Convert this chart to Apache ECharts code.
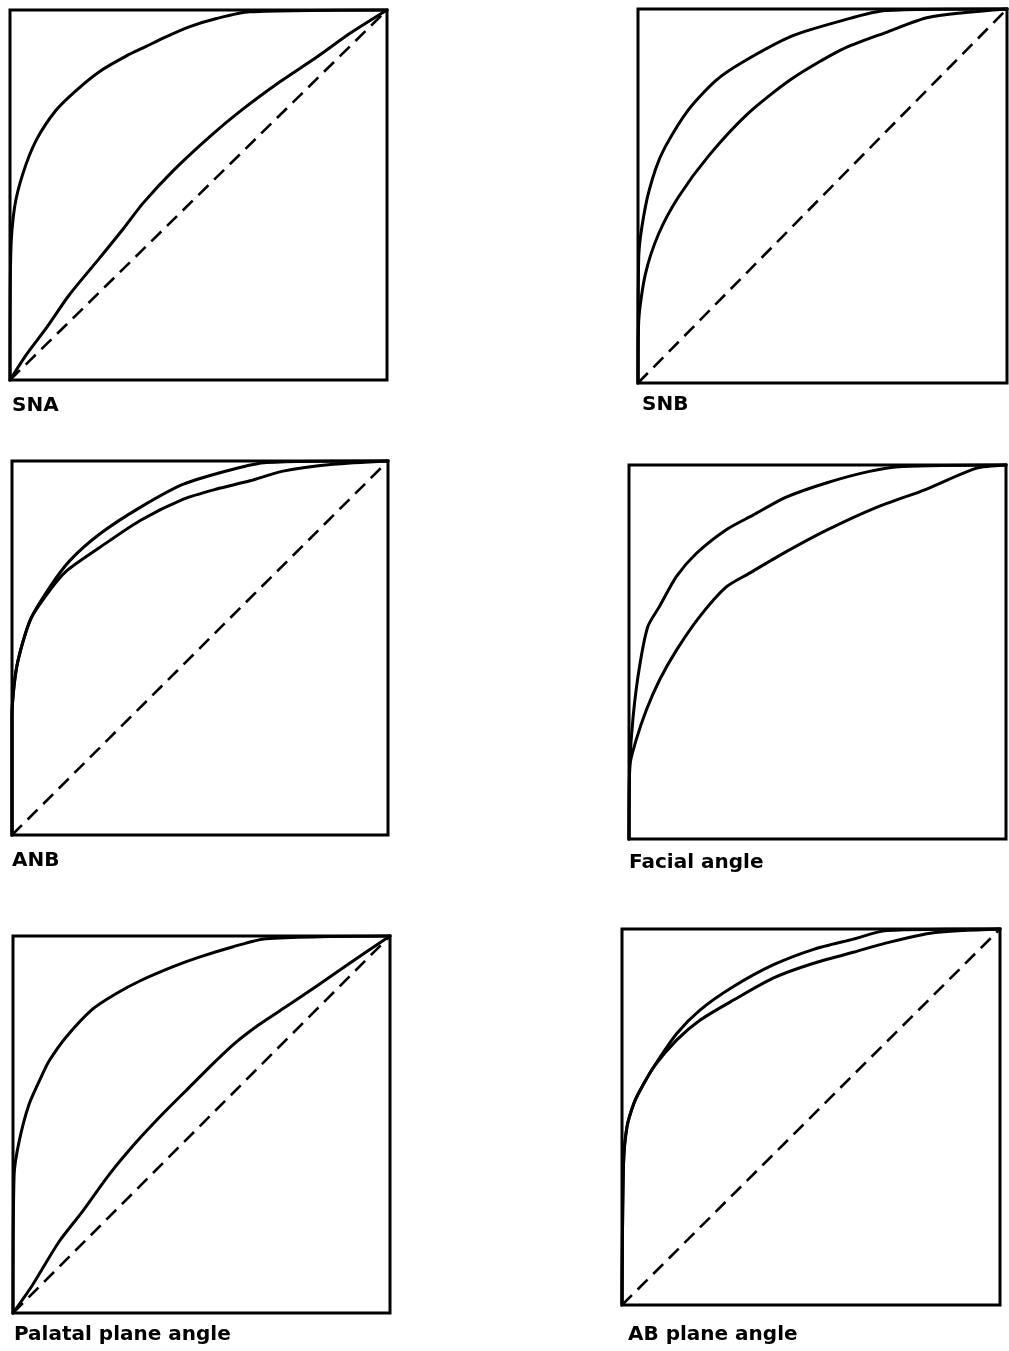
<!DOCTYPE html>
<html>
<head>
<meta charset="utf-8">
<script src="https://cdn.jsdelivr.net/npm/echarts@6/dist/echarts.min.js"></script>
<style>
html,body{margin:0;padding:0;background:#fff;}
#chart{width:1009px;height:1351px;}
</style>
</head>
<body>
<div id="chart"></div>
<script>
// Panel titles
const panelTitles = ['SNA', 'SNB', 'ANB', 'Facial angle', 'Palatal plane angle', 'AB plane angle'];

// Chance diagonal
const diagonal = [[0, 0], [1, 1]];

// SNA
const snaUpper = [[0,0],[0.002,0.34],[0.012,0.466],[0.034,0.557],[0.069,0.647],[0.122,0.729],[0.176,0.783],[0.238,0.834],[0.309,0.876],[0.36,0.901],[0.415,0.928],[0.477,0.955],[0.548,0.977],[0.636,0.995],[1,1]];
const snaLower = [[0,0],[0.043,0.068],[0.096,0.14],[0.158,0.231],[0.238,0.33],[0.3,0.408],[0.353,0.478],[0.433,0.566],[0.53,0.658],[0.61,0.726],[0.716,0.806],[0.814,0.873],[0.902,0.937],[1,1]];

// SNB
const snbUpper = [[0,0],[0.002,0.336],[0.02,0.471],[0.047,0.57],[0.074,0.632],[0.137,0.731],[0.21,0.808],[0.282,0.857],[0.418,0.928],[0.553,0.969],[0.671,0.996],[1,1]];
const snbLower = [[0,0],[0.002,0.166],[0.02,0.291],[0.056,0.399],[0.11,0.498],[0.192,0.608],[0.3,0.722],[0.418,0.814],[0.553,0.892],[0.671,0.937],[0.789,0.978],[1,1]];

// ANB
const anbUpper = [[0,0],[0,0.32],[0.013,0.452],[0.049,0.576],[0.102,0.665],[0.155,0.735],[0.235,0.806],[0.341,0.876],[0.456,0.938],[0.588,0.978],[0.677,0.996],[1,1]];
const anbLower = [[0,0],[0,0.32],[0.013,0.452],[0.049,0.576],[0.102,0.656],[0.146,0.707],[0.235,0.77],[0.341,0.841],[0.456,0.898],[0.544,0.925],[0.633,0.947],[0.721,0.973],[0.854,0.991],[1,1]];

// Facial angle
const facUpper = [[0,0],[0.002,0.194],[0.011,0.328],[0.028,0.461],[0.05,0.568],[0.081,0.622],[0.126,0.702],[0.179,0.764],[0.258,0.827],[0.329,0.866],[0.417,0.914],[0.523,0.952],[0.638,0.983],[0.726,0.996],[1,1]];
const facLower = [[0,0],[0.002,0.194],[0.019,0.265],[0.046,0.345],[0.081,0.425],[0.126,0.505],[0.187,0.594],[0.258,0.674],[0.32,0.711],[0.408,0.763],[0.523,0.825],[0.655,0.886],[0.788,0.935],[0.92,0.991],[1,1]];

// Palatal plane angle
const palUpper = [[0,0],[0.003,0.367],[0.016,0.454],[0.042,0.552],[0.078,0.633],[0.096,0.669],[0.14,0.731],[0.211,0.806],[0.273,0.847],[0.335,0.88],[0.423,0.918],[0.494,0.944],[0.582,0.971],[0.671,0.993],[1,1]];
const palLower = [[0,0],[0.051,0.073],[0.122,0.189],[0.184,0.269],[0.255,0.367],[0.326,0.452],[0.396,0.527],[0.458,0.589],[0.52,0.651],[0.582,0.71],[0.653,0.765],[0.733,0.818],[0.804,0.866],[0.892,0.927],[1,1]];

// AB plane angle
const abUpper = [[0,0],[0.004,0.375],[0.013,0.473],[0.031,0.535],[0.048,0.571],[0.084,0.633],[0.145,0.722],[0.207,0.785],[0.295,0.847],[0.401,0.905],[0.507,0.946],[0.612,0.973],[0.7,0.996],[1,1]];
const abLower = [[0,0],[0.004,0.375],[0.013,0.473],[0.031,0.535],[0.048,0.571],[0.084,0.633],[0.145,0.705],[0.207,0.758],[0.295,0.811],[0.401,0.87],[0.507,0.909],[0.612,0.938],[0.7,0.963],[0.824,0.99],[1,1]];

const panels = [
  {curves:[snaUpper, snaLower], dashed:true,  box:[10, 10, 377, 370],  label:[12, 406]},
  {curves:[snbUpper, snbLower], dashed:true,  box:[638, 9, 369, 374],  label:[642, 405]},
  {curves:[anbUpper, anbLower], dashed:true,  box:[12, 461, 376, 374], label:[12, 861]},
  {curves:[facUpper, facLower], dashed:false, box:[629, 465, 377, 374],label:[629, 863]},
  {curves:[palUpper, palLower], dashed:true,  box:[13, 936, 377, 377], label:[14, 1335]},
  {curves:[abUpper, abLower],   dashed:true,  box:[622, 929, 378, 376],label:[628, 1335]}
];

const grid = [], xAxis = [], yAxis = [], series = [], graphic = [];
panels.forEach((p, i) => {
  grid.push({left:p.box[0], top:p.box[1], width:p.box[2], height:p.box[3],
    show:true, borderColor:'#000', borderWidth:3, backgroundColor:'transparent'});
  const ax = {gridIndex:i, type:'value', min:0, max:1,
    axisLine:{show:false}, axisTick:{show:false}, axisLabel:{show:false}, splitLine:{show:false}};
  xAxis.push(Object.assign({}, ax));
  yAxis.push(Object.assign({}, ax));
  p.curves.forEach(c => {
    series.push({type:'line', xAxisIndex:i, yAxisIndex:i, data:c, showSymbol:false, symbol:'none',
      smooth:0.25, clip:false, silent:true,
      lineStyle:{color:'#000', width:3, cap:'round', join:'round'}});
  });
  if (p.dashed) {
    series.push({type:'line', xAxisIndex:i, yAxisIndex:i, data:diagonal, showSymbol:false, symbol:'none',
      clip:false, silent:true,
      lineStyle:{color:'#000', width:2.6, type:[14, 8]}});
  }
  graphic.push({type:'text', x:p.label[0], y:p.label[1],
    style:{text:panelTitles[i], fill:'#000', font:'bold 20px "DejaVu Sans", sans-serif', verticalAlign:'middle', align:'left'}});
});

const chart = echarts.init(document.getElementById('chart'), null, {renderer:'canvas'});
chart.setOption({animation:false, backgroundColor:'#fff', grid, xAxis, yAxis, series, graphic});
</script>
</body>
</html>
